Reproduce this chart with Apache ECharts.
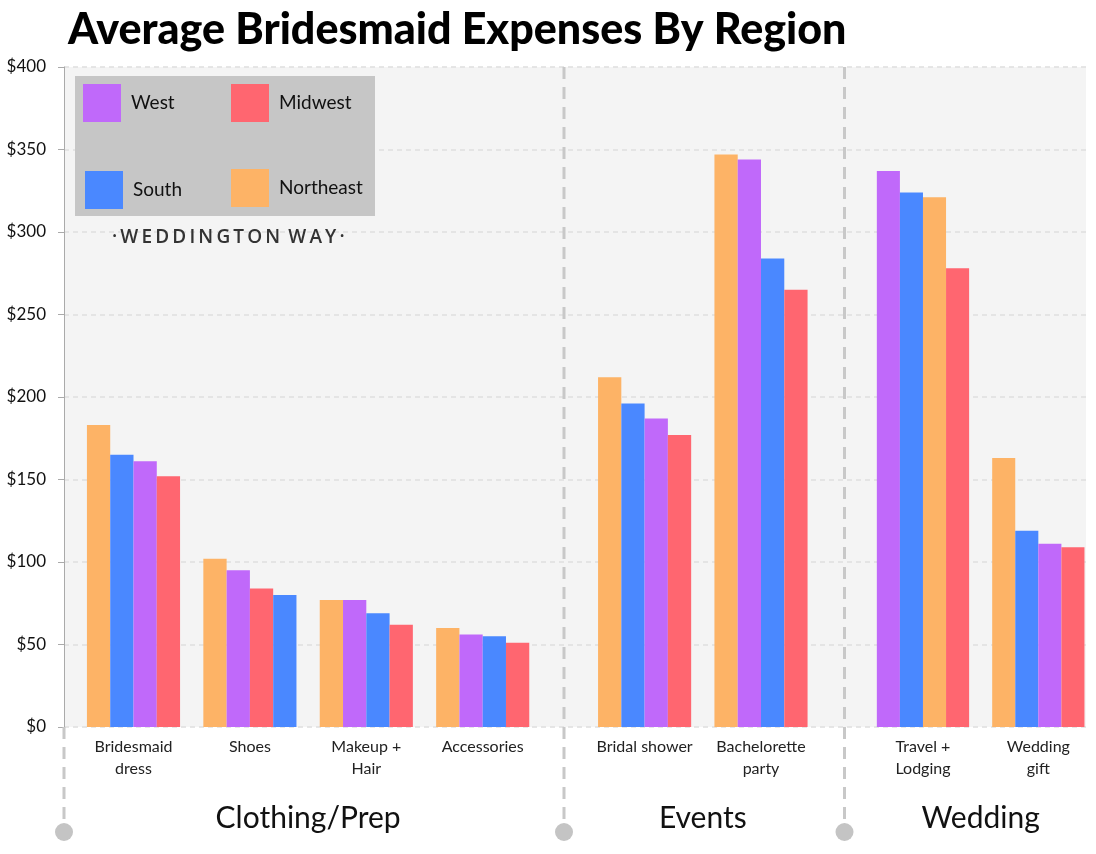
<!DOCTYPE html>
<html>
<head>
<meta charset="utf-8">
<script src="https://cdn.jsdelivr.net/npm/echarts@6/dist/echarts.min.js"></script>
<style>html,body{margin:0;padding:0;background:#fff;}#c{width:1096px;height:854px;}</style>
</head>
<body>
<div id="c"></div>
<script>
// ---- data ----
const categories = ['Bridesmaid\ndress', 'Shoes', 'Makeup +\nHair', 'Accessories', 'Bridal shower', 'Bachelorette\nparty', 'Travel +\nLodging', 'Wedding\ngift'];
const groups = ['Clothing/Prep', 'Events', 'Wedding'];
const groupSizes = [4, 2, 2];
const west      = [161,  95, 77, 56, 187, 344, 337, 111];
const midwest   = [152,  84, 62, 51, 177, 265, 278, 109];
const south     = [165,  80, 69, 55, 196, 284, 324, 119];
const northeast = [183, 102, 77, 60, 212, 347, 321, 163];
const yMin = 0, yMax = 400, yStep = 50;
const legendNames = ['West', 'Midwest', 'South', 'Northeast'];

// ---- styles / layout ----
const FONT = 'Lato, "Open Sans", sans-serif';
const colors = { West: '#C069FA', Midwest: '#FF6670', South: '#4A88FF', Northeast: '#FDB366' };
const regions = [
  { name: 'Northeast', data: northeast },
  { name: 'South', data: south },
  { name: 'West', data: west },
  { name: 'Midwest', data: midwest }
];
const TOP = 67, HEIGHT = 660, BAND = 116.4;
const groupCenters0 = [133.5, 644.6, 923.5]; // center of first category in each group
const plotLeft = 64, plotRight = 1086;

const grids = [{ left: plotLeft, top: TOP, width: plotRight - plotLeft, height: HEIGHT, show: true, backgroundColor: '#f4f4f4', borderWidth: 0 }];
const xAxes = [{ type: 'value', gridIndex: 0, show: false, min: 0, max: 1 }];
const yAxes = [{
  type: 'value', gridIndex: 0, min: yMin, max: yMax, interval: yStep,
  axisLine: { show: true, lineStyle: { color: '#aaaaaa', width: 1 } },
  axisTick: { show: true, length: 6, lineStyle: { color: '#aaaaaa' } },
  axisLabel: { formatter: '${value}', fontSize: 17, color: '#111', fontFamily: FONT, margin: 18 },
  splitLine: { show: true, lineStyle: { color: '#dedede', width: 1.5, type: [5, 4] } }
}];
const series = [];
let start = 0;
groups.forEach((g, gi) => {
  const n = groupSizes[gi];
  const cats = categories.slice(start, start + n);
  grids.push({ left: groupCenters0[gi] - BAND / 2, top: TOP, width: BAND * n, height: HEIGHT, show: false });
  xAxes.push({
    type: 'category', gridIndex: gi + 1, data: cats,
    axisLine: { show: false }, axisTick: { show: false },
    axisLabel: { fontSize: 16, color: '#222', fontFamily: FONT, margin: 9, lineHeight: 22, interval: 0 },
    name: g, nameLocation: 'middle', nameGap: 76,
    nameTextStyle: { fontSize: 30, color: '#111', fontFamily: FONT }
  });
  yAxes.push({ type: 'value', gridIndex: gi + 1, min: yMin, max: yMax, interval: yStep, show: false, splitLine: { show: false } });
  for (let r = 0; r < 4; r++) {
    const data = [];
    for (let k = 0; k < n; k++) {
      const ci = start + k;
      const sorted = regions.slice().sort((a, b) => b.data[ci] - a.data[ci]);
      const reg = sorted[r];
      data.push({ value: reg.data[ci], name: reg.name, itemStyle: { color: colors[reg.name] } });
    }
    series.push({
      type: 'bar', name: 'rank' + (r + 1), xAxisIndex: gi + 1, yAxisIndex: gi + 1,
      data: data, barGap: 0, barCategoryGap: '20%', silent: true
    });
  }
  start += n;
});
// legend-only series
legendNames.forEach(nm => {
  series.push({ type: 'scatter', name: nm, xAxisIndex: 0, yAxisIndex: 0, data: [], itemStyle: { color: colors[nm], opacity: 1 } });
});

const legendPos = { West: [83, 84], Midwest: [231, 84], South: [85, 171], Northeast: [231, 169] };
const legends = legendNames.map(nm => ({
  data: [nm], left: legendPos[nm][0], top: legendPos[nm][1], padding: 0,
  icon: 'rect', itemWidth: 38, itemHeight: 38, selectedMode: false, z: 6,
  itemStyle: { opacity: 1 },
  textStyle: { fontSize: 19, color: '#111', fontFamily: FONT, padding: [0, 0, 0, 5] }
}));

const sepXs = [64, 564, 844.5];
const graphic = [
  { type: 'rect', left: 75, top: 76, shape: { width: 300, height: 140 }, style: { fill: '#c6c6c6' }, z: 3 },
  { type: 'text', left: 112, top: 228, style: { text: '·\u2009W\u2009E\u2009D\u2009D\u2009I\u2009N\u2009G\u2009T\u2009O\u2009N\u2009 W\u2009A\u2009Y\u2009·', fill: '#333', font: '600 19px "Open Sans", sans-serif' }, z: 5 }
];
sepXs.forEach((x, i) => {
  graphic.push({ type: 'line', shape: { x1: x, y1: i === 0 ? TOP + HEIGHT : TOP, x2: x, y2: 822 }, style: { stroke: '#c8c8c8', lineWidth: 3, lineDash: [12, 8] }, z: 5 });
  graphic.push({ type: 'circle', shape: { cx: x, cy: 832, r: 9 }, style: { fill: '#c4c4c4' }, z: 5 });
});

const chart = echarts.init(document.getElementById('c'));
chart.setOption({
  animation: false,
  title: { text: 'Average Bridesmaid Expenses By Region', left: 63, top: 4, textStyle: { fontSize: 43, fontWeight: 900, fontFamily: FONT, color: '#000' } },
  grid: grids, xAxis: xAxes, yAxis: yAxes, legend: legends, series: series, graphic: graphic
});
</script>
</body>
</html>
